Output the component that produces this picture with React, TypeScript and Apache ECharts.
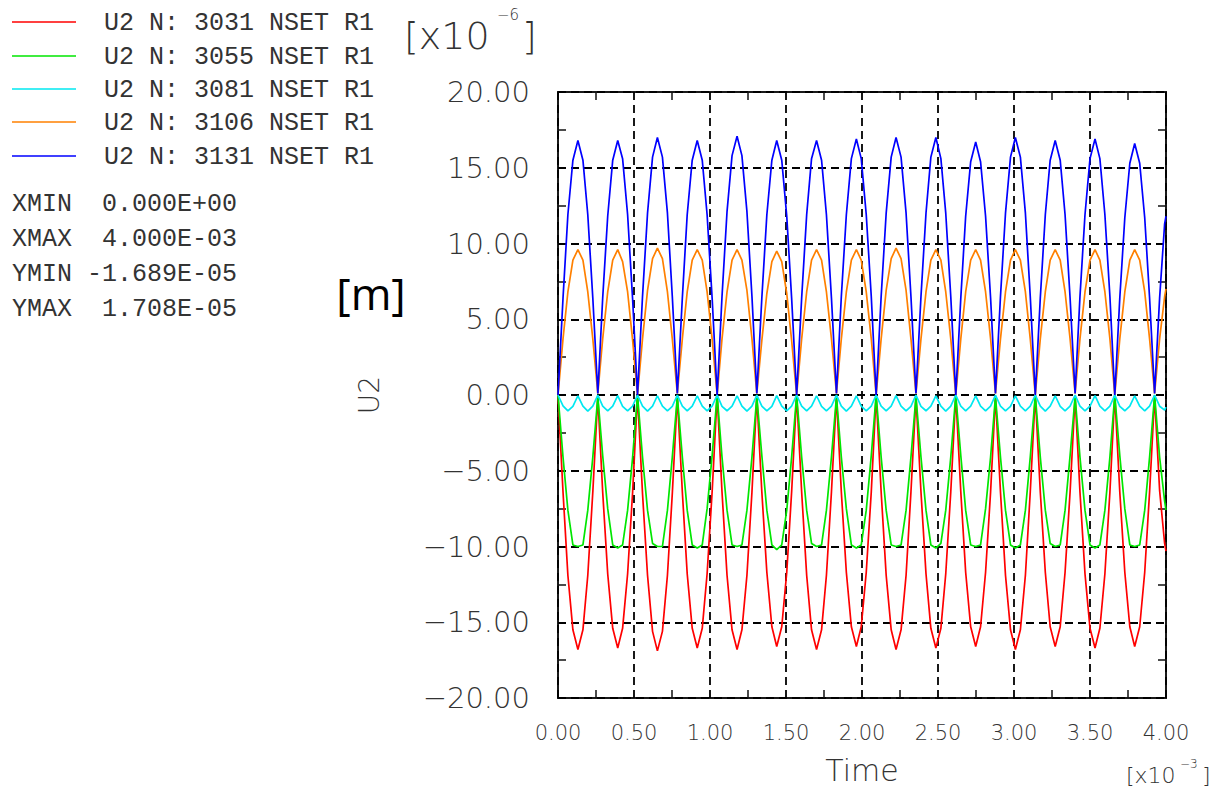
import React, { useEffect, useRef } from "react";
import * as echarts from "echarts";

// Time in units of 1e-3 s
const timeMs = [
  0, 0.033, 0.065, 0.098, 0.131, 0.164, 0.196, 0.229,
  0.262, 0.294, 0.327, 0.360, 0.393, 0.425, 0.458, 0.491,
  0.523, 0.556, 0.589, 0.622, 0.654, 0.687, 0.720, 0.752,
  0.785, 0.818, 0.850, 0.883, 0.916, 0.949, 0.981, 1.014,
  1.047, 1.079, 1.112, 1.145, 1.178, 1.210, 1.243, 1.276,
  1.308, 1.341, 1.374, 1.407, 1.439, 1.472, 1.505, 1.537,
  1.570, 1.603, 1.636, 1.668, 1.701, 1.734, 1.766, 1.799,
  1.832, 1.864, 1.897, 1.930, 1.963, 1.995, 2.028, 2.061,
  2.093, 2.126, 2.159, 2.192, 2.224, 2.257, 2.290, 2.322,
  2.355, 2.388, 2.421, 2.453, 2.486, 2.519, 2.551, 2.584,
  2.617, 2.650, 2.682, 2.715, 2.748, 2.780, 2.813, 2.846,
  2.878, 2.911, 2.944, 2.977, 3.009, 3.042, 3.075, 3.107,
  3.140, 3.173, 3.206, 3.238, 3.271, 3.304, 3.336, 3.369,
  3.402, 3.434, 3.467, 3.500, 3.533, 3.565, 3.598, 3.631,
  3.663, 3.696, 3.729, 3.762, 3.794, 3.827, 3.860, 3.892,
  3.925, 3.958, 3.991, 4.000,
];

// U2 values in units of 1e-6 m
const u2N3031 = [
  0, -6.4, -11.9, -15.5, -16.8, -15.5, -11.9, -6.4,
  -0.1, -6.4, -11.8, -15.4, -16.7, -15.4, -11.8, -6.4,
  0, -6.5, -11.9, -15.6, -16.89, -15.6, -11.9, -6.5,
  -0.1, -6.4, -11.8, -15.4, -16.7, -15.4, -11.8, -6.4,
  0, -6.4, -11.9, -15.5, -16.8, -15.5, -11.9, -6.4,
  -0.1, -6.4, -11.7, -15.3, -16.6, -15.3, -11.7, -6.4,
  0, -6.4, -11.9, -15.5, -16.8, -15.5, -11.9, -6.4,
  -0.1, -6.4, -11.7, -15.3, -16.6, -15.3, -11.7, -6.4,
  0, -6.4, -11.9, -15.5, -16.8, -15.5, -11.9, -6.4,
  -0.1, -6.4, -11.8, -15.4, -16.7, -15.4, -11.8, -6.4,
  0, -6.4, -11.7, -15.3, -16.6, -15.3, -11.7, -6.4,
  -0.1, -6.4, -11.9, -15.5, -16.8, -15.5, -11.9, -6.4,
  0, -6.4, -11.7, -15.3, -16.6, -15.3, -11.7, -6.4,
  -0.1, -6.4, -11.8, -15.4, -16.7, -15.4, -11.8, -6.4,
  0, -6.4, -11.7, -15.3, -16.6, -15.3, -11.7, -6.4,
  -0.1, -6.3, -9.8, -10.3,
];

const u2N3055 = [
  0, -4.1, -7.6, -9.9, -10.0, -9.9, -7.6, -4.1,
  -0.1, -4.0, -7.5, -9.9, -10.1, -9.9, -7.6, -4.1,
  0, -4.1, -7.6, -9.8, -10.0, -10.0, -7.6, -4.1,
  -0.1, -4.1, -7.6, -9.9, -10.1, -9.9, -7.5, -4.0,
  0, -4.1, -7.6, -9.9, -10.0, -9.9, -7.6, -4.1,
  -0.1, -4.0, -7.6, -9.9, -10.2, -9.9, -7.6, -4.1,
  0, -4.1, -7.6, -9.8, -10.0, -9.9, -7.6, -4.1,
  -0.1, -4.1, -7.5, -9.9, -10.1, -9.9, -7.6, -4.0,
  0, -4.1, -7.6, -9.9, -10.0, -9.9, -7.6, -4.1,
  -0.1, -4.1, -7.6, -9.9, -10.1, -9.8, -7.6, -4.1,
  0, -4.0, -7.6, -9.9, -10.0, -9.9, -7.5, -4.1,
  -0.1, -4.1, -7.6, -9.9, -10.1, -9.9, -7.6, -4.1,
  0, -4.1, -7.6, -9.8, -10.0, -9.9, -7.6, -4.0,
  -0.1, -4.1, -7.6, -9.9, -10.1, -9.9, -7.6, -4.1,
  0, -4.0, -7.5, -9.9, -10.0, -9.9, -7.6, -4.1,
  0, -4.1, -7.0, -7.6,
];

const u2N3081 = [
  0, -0.72, -1.05, -0.75, -0.05, -0.74, -1.06, -0.73,
  0, -0.74, -1.04, -0.74, -0.04, -0.75, -1.05, -0.74,
  0, -0.73, -1.06, -0.74, -0.05, -0.74, -1.04, -0.75,
  0, -0.74, -1.05, -0.73, -0.06, -0.74, -1.05, -0.74,
  0, -0.75, -1.04, -0.74, -0.05, -0.73, -1.06, -0.74,
  0, -0.74, -1.05, -0.75, -0.04, -0.74, -1.05, -0.73,
  0, -0.73, -1.05, -0.74, -0.05, -0.75, -1.04, -0.74,
  0, -0.74, -1.06, -0.74, -0.05, -0.74, -1.05, -0.74,
  0, -0.74, -1.05, -0.73, -0.04, -0.74, -1.05, -0.75,
  0, -0.75, -1.04, -0.74, -0.05, -0.73, -1.06, -0.74,
  0, -0.74, -1.05, -0.74, -0.06, -0.74, -1.05, -0.73,
  0, -0.73, -1.05, -0.75, -0.05, -0.74, -1.04, -0.74,
  0, -0.74, -1.06, -0.74, -0.05, -0.75, -1.05, -0.74,
  0, -0.74, -1.05, -0.73, -0.04, -0.74, -1.05, -0.74,
  0, -0.75, -1.04, -0.74, -0.05, -0.74, -1.05, -0.73,
  0, -0.74, -1.0, -0.8,
];

const u2N3106 = [
  0, 3.7, 6.8, 8.9, 9.6, 8.9, 6.8, 3.7,
  0.1, 3.7, 6.8, 8.9, 9.6, 8.8, 6.8, 3.6,
  0, 3.7, 6.9, 9.0, 9.7, 9.0, 6.8, 3.7,
  0.1, 3.7, 6.8, 8.9, 9.6, 8.9, 6.8, 3.7,
  0, 3.7, 6.8, 8.9, 9.6, 8.9, 6.9, 3.7,
  0.1, 3.6, 6.7, 8.8, 9.5, 8.8, 6.7, 3.6,
  0, 3.7, 6.8, 8.9, 9.6, 8.9, 6.8, 3.7,
  0.1, 3.7, 6.8, 8.9, 9.6, 8.9, 6.8, 3.7,
  0, 3.7, 6.9, 9.0, 9.7, 9.0, 6.9, 3.7,
  0.1, 3.7, 6.8, 8.9, 9.6, 8.9, 6.8, 3.7,
  0, 3.7, 6.8, 8.9, 9.6, 8.9, 6.8, 3.7,
  0.1, 3.7, 6.8, 8.9, 9.6, 8.9, 6.8, 3.7,
  0, 3.7, 6.8, 8.9, 9.6, 8.9, 6.8, 3.7,
  0.1, 3.7, 6.8, 8.9, 9.6, 8.9, 6.8, 3.7,
  0, 3.7, 6.8, 8.9, 9.6, 8.9, 6.8, 3.7,
  0.1, 3.7, 6.5, 7.0,
];

const u2N3131 = [
  0, 6.4, 11.9, 15.5, 16.8, 15.5, 11.9, 6.4,
  0.1, 6.4, 11.8, 15.5, 16.8, 15.6, 11.9, 6.3,
  0, 6.5, 12.0, 15.7, 17.0, 15.7, 12.0, 6.5,
  0.1, 6.4, 11.9, 15.5, 16.8, 15.5, 11.9, 6.4,
  0, 6.5, 12.1, 15.8, 17.08, 15.8, 12.1, 6.5,
  0.1, 6.4, 11.9, 15.5, 16.8, 15.5, 11.8, 6.4,
  0, 6.4, 11.9, 15.6, 16.8, 15.5, 11.9, 6.4,
  0.1, 6.5, 11.9, 15.6, 16.9, 15.6, 11.9, 6.5,
  0, 6.5, 12.0, 15.7, 17.0, 15.7, 12.0, 6.5,
  0.1, 6.5, 12.0, 15.7, 17.0, 15.6, 12.0, 6.5,
  0, 6.4, 11.8, 15.4, 16.7, 15.4, 11.8, 6.4,
  0.1, 6.5, 12.0, 15.7, 17.0, 15.7, 12.0, 6.5,
  0, 6.4, 11.9, 15.5, 16.8, 15.5, 11.9, 6.4,
  0.1, 6.5, 11.9, 15.6, 16.9, 15.6, 11.9, 6.5,
  0, 6.4, 11.7, 15.3, 16.6, 15.3, 11.7, 6.4,
  0.1, 6.4, 11.3, 11.8,
];

const seriesNames = [
  "U2 N: 3031 NSET R1",
  "U2 N: 3055 NSET R1",
  "U2 N: 3081 NSET R1",
  "U2 N: 3106 NSET R1",
  "U2 N: 3131 NSET R1",
];
const seriesValues = [u2N3031, u2N3055, u2N3081, u2N3106, u2N3131];
const seriesColors = ["#ff0000", "#00e600", "#00e8f0", "#ff8000", "#0000ff"];

const statLabels = ["XMIN", "XMAX", "YMIN", "YMAX"];
const statValues = ["0.000E+00", "4.000E-03", "-1.689E-05", "1.708E-05"];

const fmt = (v: number) => (v < 0 ? "\u2212" : "") + Math.abs(v).toFixed(2);

const AXIS_FONT = "DejaVu Sans";
const MONO = "Liberation Mono";
const TXT = "#333333";

export default function App() {
  const ref = useRef<HTMLDivElement>(null);

  useEffect(() => {
    if (!ref.current) return;
    const chart = echarts.init(ref.current, undefined, { renderer: "svg" });

    const tickLine = { color: "#111", width: 1.5 };
    const gridLine = { color: "#000", width: 1.8, type: [8, 5] };
    const legendRowY = [22, 56, 89, 122, 156];
    const statRowY = [204, 239, 274, 309];

    const graphic: any[] = [];
    seriesNames.forEach((name, i) => {
      graphic.push({
        type: "line",
        shape: { x1: 12, y1: legendRowY[i], x2: 76, y2: legendRowY[i] },
        style: { stroke: seriesColors[i], lineWidth: 1.6 },
      });
      graphic.push({
        type: "text",
        x: 104,
        y: legendRowY[i] + 1,
        style: {
          text: name,
          fill: TXT,
          font: `25px "${MONO}"`,
          align: "left",
          verticalAlign: "middle",
        },
      });
    });
    statLabels.forEach((lab, i) => {
      graphic.push({
        type: "text",
        x: 12,
        y: statRowY[i],
        style: { text: lab, fill: TXT, font: `25px "${MONO}"`, align: "left", verticalAlign: "middle" },
      });
      const v = statValues[i];
      graphic.push({
        type: "text",
        x: v.startsWith("-") ? 87 : 102,
        y: statRowY[i],
        style: { text: v, fill: TXT, font: `25px "${MONO}"`, align: "left", verticalAlign: "middle" },
      });
    });
    // y-axis multiplier
    graphic.push(
      { type: "text", x: 404, y: 36, style: { text: "[x10", fill: TXT, font: `200 38px "${AXIS_FONT}"`, align: "left", verticalAlign: "middle" } },
      { type: "text", x: 497, y: 15, style: { text: "\u22126", fill: TXT, font: `200 15px "${AXIS_FONT}"`, align: "left", verticalAlign: "middle" } },
      { type: "text", x: 522, y: 36, style: { text: "]", fill: TXT, font: `200 38px "${AXIS_FONT}"`, align: "left", verticalAlign: "middle" } },
      // x-axis multiplier
      { type: "text", x: 1126, y: 775, style: { text: "[x10", fill: TXT, font: `200 22px "${AXIS_FONT}"`, align: "left", verticalAlign: "middle" } },
      { type: "text", x: 1180, y: 764, style: { text: "\u22123", fill: TXT, font: `200 12px "${AXIS_FONT}"`, align: "left", verticalAlign: "middle" } },
      { type: "text", x: 1202, y: 775, style: { text: "]", fill: TXT, font: `200 22px "${AXIS_FONT}"`, align: "left", verticalAlign: "middle" } },
      // unit annotation
      { type: "text", x: 371, y: 293, style: { text: "[m]", fill: "#000", font: `44px "Open Sans"`, align: "center", verticalAlign: "middle" } }
    );

    const option: any = {
      animation: false,
      backgroundColor: "#ffffff",
      grid: {
        left: 558,
        top: 92,
        width: 608,
        height: 609,
        show: true,
        borderColor: "#1a1a1a",
        borderWidth: 2,
        backgroundColor: "transparent",
      },
      xAxis: [
        {
          type: "value",
          position: "bottom",
          min: 0,
          max: 4,
          interval: 0.5,
          axisLine: { show: false, onZero: false },
          axisTick: { show: false, inside: true },
          minorTick: { show: true, splitNumber: 2, length: 8, lineStyle: tickLine },
          splitLine: { show: true, lineStyle: gridLine },
          axisLabel: {
            margin: 24,
            fontSize: 21,
            fontWeight: 200,
            color: TXT,
            fontFamily: AXIS_FONT,
            formatter: fmt,
          },
          name: "Time",
          nameLocation: "middle",
          nameGap: 57,
          nameTextStyle: { fontSize: 30, fontWeight: 200, color: TXT, fontFamily: AXIS_FONT },
        },
        {
          type: "value",
          position: "top",
          min: 0,
          max: 4,
          interval: 0.5,
          axisLine: { show: false, onZero: false },
          axisTick: { show: false, inside: true },
          minorTick: { show: true, splitNumber: 2, length: 8, lineStyle: tickLine },
          splitLine: { show: false },
          axisLabel: { show: false },
        },
      ],
      yAxis: [
        {
          type: "value",
          position: "left",
          min: -20,
          max: 20,
          interval: 5,
          axisLine: { show: false, onZero: false },
          axisTick: { show: false, inside: true },
          minorTick: { show: true, splitNumber: 2, length: 8, lineStyle: tickLine },
          splitLine: { show: true, lineStyle: gridLine },
          axisLabel: {
            margin: 28,
            fontSize: 29,
            fontWeight: 200,
            color: TXT,
            fontFamily: AXIS_FONT,
            formatter: fmt,
          },
          name: "U2",
          nameLocation: "middle",
          nameRotate: 90,
          nameGap: 175,
          nameTextStyle: { fontSize: 28, fontWeight: 200, color: TXT, fontFamily: AXIS_FONT },
        },
        {
          type: "value",
          position: "right",
          min: -20,
          max: 20,
          interval: 5,
          axisLine: { show: false, onZero: false },
          axisTick: { show: false, inside: true },
          minorTick: { show: true, splitNumber: 2, length: 8, lineStyle: tickLine },
          splitLine: { show: false },
          axisLabel: { show: false },
        },
      ],
      series: seriesNames.map((name, i) => ({
        name,
        type: "line",
        xAxisIndex: 0,
        yAxisIndex: 0,
        data: timeMs.map((t, j) => [t, seriesValues[i][j]]),
        showSymbol: false,
        symbol: "none",
        clip: true,
        lineStyle: { width: 1.7, color: seriesColors[i] },
        itemStyle: { color: seriesColors[i] },
      })),
      graphic,
    };

    chart.setOption(option);
    return () => chart.dispose();
  }, []);

  return (
    <div
      ref={ref}
      style={{ position: "fixed", left: 0, top: 0, width: 1219, height: 790, background: "#fff" }}
    />
  );
}
